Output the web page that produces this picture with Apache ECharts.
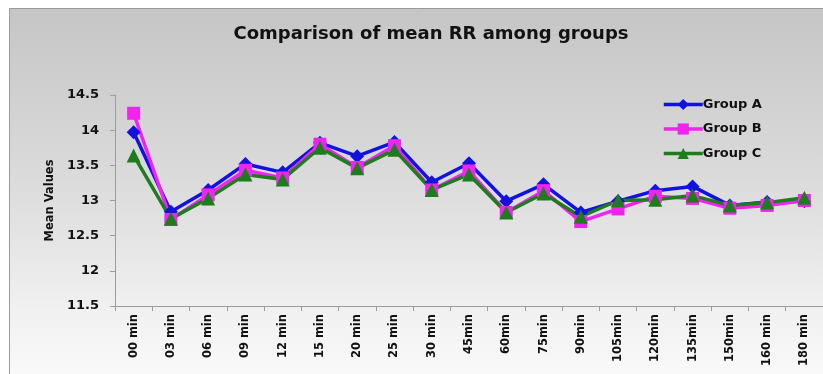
<!DOCTYPE html>
<html>
<head>
<meta charset="utf-8">
<title>Comparison of mean RR among groups</title>
<script src="https://cdn.jsdelivr.net/npm/echarts@6/dist/echarts.min.js"></script>
<style>
  html, body { margin: 0; padding: 0; background: #ffffff; }
  #chart { width: 823px; height: 374px; }
</style>
</head>
<body>
<div id="chart"></div>
<script>
// Time points of measurement
const categories = ['00 min', '03 min', '06 min', '09 min', '12 min', '15 min', '20 min', '25 min', '30 min',
  '45min', '60min', '75min', '90min', '105min', '120min', '135min', '150min', '160 min', '180 min'];

// Mean respiratory rate per group
const groupA = [13.97, 12.84, 13.15, 13.52, 13.40, 13.82, 13.63, 13.83, 13.26, 13.53,
  12.99, 13.23, 12.83, 12.99, 13.14, 13.20, 12.93, 12.98, 12.99];
const groupB = [14.24, 12.73, 13.08, 13.43, 13.32, 13.80, 13.47, 13.78, 13.15, 13.42,
  12.83, 13.14, 12.70, 12.88, 13.06, 13.03, 12.89, 12.93, 13.00];
const groupC = [13.64, 12.74, 13.03, 13.37, 13.30, 13.75, 13.46, 13.72, 13.15, 13.37,
  12.83, 13.10, 12.77, 13.00, 13.01, 13.07, 12.93, 12.97, 13.04];

// Value axis range and step
const yMin = 11.5;
const yMax = 14.5;
const yStep = 0.5;

const FONT = '"DejaVu Sans", Verdana, sans-serif';

const chart = echarts.init(document.getElementById('chart'), null, { renderer: 'canvas' });

function lineSeries(name, data, color, symbol, size) {
  return {
    name: name,
    type: 'line',
    data: data,
    symbol: symbol,
    symbolSize: size,
    showAllSymbol: true,
    lineStyle: { color: color, width: 3.5 },
    itemStyle: { color: color, borderWidth: 0 },
    emphasis: { disabled: true },
    animation: false
  };
}

chart.setOption({
  backgroundColor: '#ffffff',
  animation: false,
  graphic: [{
    type: 'rect',
    z: -10,
    silent: true,
    shape: { x: 9.5, y: 8.5, width: 830, height: 380 },
    style: {
      fill: {
        type: 'linear', x: 0, y: 0, x2: 0, y2: 1,
        colorStops: [
          { offset: 0, color: '#c5c5c5' },
          { offset: 0.45, color: '#dbdbdb' },
          { offset: 0.8, color: '#f1f1f1' },
          { offset: 1, color: '#fbfbfb' }
        ]
      },
      stroke: '#9a9a9a',
      lineWidth: 1
    }
  }],
  title: {
    text: 'Comparison of mean RR among groups',
    left: 426,
    textAlign: 'center',
    top: 20,
    textStyle: { fontFamily: FONT, fontWeight: 'bold', fontSize: 18, color: '#111111' }
  },
  legend: {
    orient: 'vertical',
    left: 657,
    top: 93,
    itemWidth: 39,
    itemHeight: 14,
    itemGap: 11.5,
    lineStyle: { width: 3.5 },
    textStyle: { fontFamily: FONT, fontWeight: 'bold', fontSize: 13, color: '#111111', padding: [0, 0, 0, -5] },
    data: ['Group A', 'Group B', 'Group C']
  },
  grid: { left: 115, top: 95, width: 710, height: 211, containLabel: false },
  xAxis: {
    type: 'category',
    data: categories,
    boundaryGap: true,
    axisLine: { lineStyle: { color: '#9c9c9c', width: 1 } },
    axisTick: { show: true, interval: 0, length: 5, lineStyle: { color: '#9c9c9c' } },
    axisLabel: {
      interval: 0,
      rotate: 90,
      margin: 8,
      fontFamily: FONT,
      fontWeight: 'bold',
      fontSize: 11.5,
      color: '#111111'
    },
    splitLine: { show: false }
  },
  yAxis: {
    type: 'value',
    min: yMin,
    max: yMax,
    interval: yStep,
    name: 'Mean Values',
    nameLocation: 'middle',
    nameRotate: 90,
    nameGap: 58,
    nameTextStyle: { fontFamily: FONT, fontWeight: 'bold', fontSize: 11.5, color: '#111111' },
    axisLine: { show: true, lineStyle: { color: '#9c9c9c', width: 1 } },
    axisTick: { show: true, length: 5, lineStyle: { color: '#9c9c9c' } },
    axisLabel: { margin: 16, fontFamily: FONT, fontWeight: 'bold', fontSize: 13, color: '#111111' },
    splitLine: { show: false }
  },
  series: [
    lineSeries('Group A', groupA, '#1212e0', 'diamond', 14),
    lineSeries('Group B', groupB, '#f024ee', 'rect', 13),
    lineSeries('Group C', groupC, '#1d7d1d', 'triangle', 14)
  ]
});
</script>
</body>
</html>
